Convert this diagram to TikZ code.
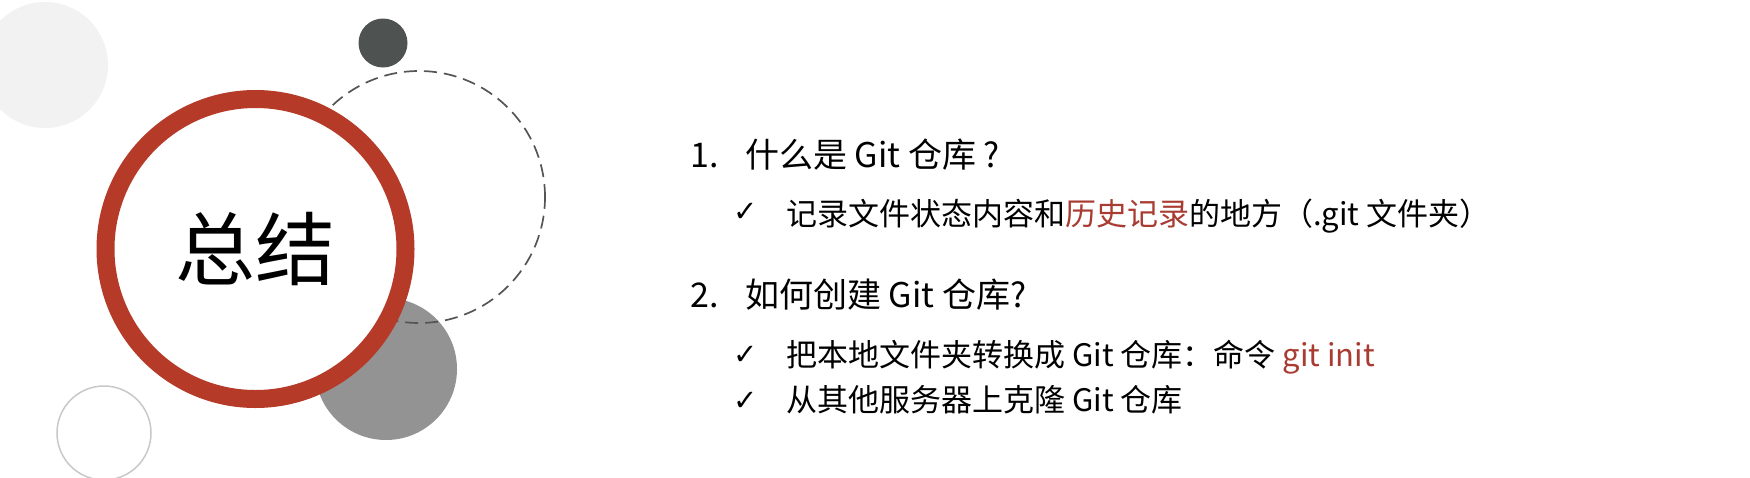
\documentclass[tikz,border=0pt]{standalone}
\usepackage{fontspec}
\setmainfont{Noto Sans CJK SC}
\newfontfamily\symfont{DejaVu Sans}
\usepackage{tikz}
\usetikzlibrary{positioning}
\definecolor{ringred}{RGB}{182,58,40}
\definecolor{textred}{RGB}{168,60,50}
\definecolor{darkdot}{RGB}{78,82,81}
\definecolor{graydisk}{RGB}{147,147,147}
\definecolor{paledisk}{RGB}{242,242,242}
\definecolor{thinring}{RGB}{200,200,200}
\definecolor{dashring}{RGB}{85,85,85}
\tikzset{%
  ring/.style = {circle,draw=ringred,line width=18pt,fill=white,
        minimum size=300pt,inner sep=0pt},
  head/.style = {anchor=base west,inner sep=0pt,
        font=\fontsize{34}{40}\selectfont},
  item/.style = {anchor=base west,inner sep=0pt,
        font=\fontsize{31}{36}\selectfont},
  tick/.style = {anchor=base west,inner sep=0pt,
        font=\symfont\bfseries\fontsize{29}{32}\selectfont}
}

\begin{document}
\begin{tikzpicture}[x=1pt,y=-1pt]
    \useasboundingbox (0,0) rectangle (1750,477);
    \fill[paledisk] (45,65) circle (63pt);
    \draw[thinring,line width=1.5pt] (104,433) circle (47pt);
    \fill[darkdot] (383,43) circle (24.5pt);
    \fill[graydisk] (386,369) circle (71pt);
    \draw[dashring,line width=1.7pt,dash pattern=on 13pt off 7pt] (419,197) circle (126pt);
    \node[ring] (summary) at (255.5,249) {\fontsize{80}{90}\selectfont 总结};

    \node[head] (q1num) at (690,167) {1.};
    \node[head] (q1) at (745,167) {什么是 Git 仓库 ?};
    \node[tick] (q1tick) at (733,221) {✓};
    \node[item] (q1a) at (786,225) {记录文件状态内容和\textcolor{textred}{历史记录}的地方（.git 文件夹）};

    \node[head] (q2num) at (690,307) {2.};
    \node[head] (q2) at (745,307) {如何创建 Git 仓库?};
    \node[tick] (q2tick1) at (733,364) {✓};
    \node[item] (q2a) at (786,366) {把本地文件夹转换成 Git 仓库：命令 \textcolor{textred}{git init}};
    \node[tick] (q2tick2) at (733,410) {✓};
    \node[item] (q2b) at (786,411) {从其他服务器上克隆 Git 仓库};
\end{tikzpicture}
\end{document}
